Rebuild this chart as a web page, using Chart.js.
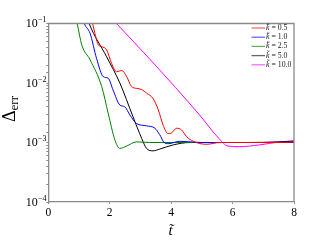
<!DOCTYPE html>
<html><head><meta charset="utf-8">
<script src="https://cdn.jsdelivr.net/npm/chart.js@4/dist/chart.umd.min.js"></script>
<style>html,body{margin:0;padding:0;background:#fff;}#wrap{width:332px;height:249px;}</style>
</head><body><div id="wrap"><canvas id="c" width="332" height="249"></canvas></div>
<script>
// Data
const kLabels = ["0.5", "1.0", "2.5", "5.0", "10.0"];
const colors = ["#ff0000", "#0000ff", "#008000", "#000000", "#ff00ff"];
const redT = [1.35,1.44,1.63,1.74,1.90,2.06,2.22,2.39,2.55,2.71,2.87,3.04,3.20,3.41,3.58,3.74,3.90,4.01,4.18,4.34,4.50,4.72,5.15,5.6,6.5,7.5,8];
const redLog = [-0.85,-1.0,-1.36,-1.39,-1.445,-1.67,-1.81,-1.79,-1.89,-2.06,-2.09,-2.11,-2.17,-2.26,-2.45,-2.71,-2.85,-2.84,-2.76,-2.79,-2.90,-2.98,-3.03,-3.0,-3.0,-3.0,-2.99];
const blueT = [1.05,1.17,1.36,1.57,1.79,1.95,2.11,2.33,2.49,2.66,2.87,3.20,3.47,3.63,3.77,3.90,4.28,5,6,7,8];
const blueLog = [-0.8,-1.0,-1.165,-1.585,-1.894,-1.92,-2.12,-2.37,-2.40,-2.54,-2.68,-2.72,-2.76,-2.87,-3.00,-3.02,-2.98,-3.0,-3.0,-3.0,-2.99];
const greenT = [0.85,0.94,1.09,1.36,1.74,1.95,2.17,2.33,2.55,2.87,3.3,4,5,6,7,8];
const greenLog = [-0.8,-1.0,-1.36,-1.61,-2.06,-2.51,-2.96,-3.10,-3.06,-2.99,-3.0,-3.0,-3.0,-3.0,-3.0,-3.0];
const blackT = [1.25,1.33,1.9,2.33,2.76,3.04,3.20,3.41,3.63,4.07,4.61,5.5,6.5,7.5,8];
const blackLog = [-0.87,-1.0,-1.56,-2.0,-2.57,-2.93,-3.10,-3.14,-3.11,-3.04,-3.00,-3.0,-3.0,-2.99,-2.98];
const magT = [2.0,2.22,3.36,4.93,5.55,5.85,6.23,6.88,7.54,8];
const magLog = [-0.875,-1.0,-1.63,-2.54,-2.93,-3.06,-3.07,-3.04,-2.99,-2.97];
const xTicks = [0, 2, 4, 6, 8];
const yTickExps = [-1, -2, -3, -4];

const seriesT = [redT, blueT, greenT, blackT, magT];
const seriesLog = [redLog, blueLog, greenLog, blackLog, magLog];

const datasets = seriesT.map((ts, i) => ({
  label: kLabels[i],
  data: ts.map((t, j) => ({x: t, y: Math.pow(10, seriesLog[i][j])})),
  borderColor: colors[i],
  borderWidth: 1,
  pointRadius: 0,
  fill: false,
  cubicInterpolationMode: 'monotone'
}));

const SERIF = "'Liberation Serif', 'DejaVu Serif', serif";
const AXIS = "#8a8a8a";

const drawText = {
  id: 'drawText',
  afterDraw(chart) {
    const ctx = chart.ctx;
    const xs = chart.scales.x, ys = chart.scales.y;
    const a = chart.chartArea;
    ctx.save();
    // frame (top/right)
    ctx.strokeStyle = AXIS; ctx.lineWidth = 1.3;
    ctx.beginPath();
    ctx.moveTo(a.left, a.top); ctx.lineTo(a.right, a.top); ctx.lineTo(a.right, a.bottom);
    ctx.stroke();
    // y tick labels with superscripts
    ctx.fillStyle = '#000';
    ctx.textBaseline = 'middle';
    yTickExps.forEach(e => {
      const y = ys.getPixelForValue(Math.pow(10, e));
      const sup = '\u2212' + String(-e);
      ctx.font = '8px ' + SERIF;
      const sw = ctx.measureText(sup).width;
      ctx.textAlign = 'right';
      ctx.fillText(sup, 46.5, y - 3.5);
      ctx.font = '12px ' + SERIF;
      ctx.fillText('10', 46.5 - sw - 0.3, y + 0.5);
    });
    // x tick labels
    ctx.textAlign = 'center';
    ctx.font = '11.5px ' + SERIF;
    xTicks.forEach(v => {
      ctx.fillText(String(v), xs.getPixelForValue(v), 212.5);
    });
    // x title
    ctx.font = 'italic 15px ' + SERIF;
    ctx.fillText('t\u0303', xs.getPixelForValue(4) - 0.5, 231);
    // y title
    ctx.save();
    ctx.translate(15, 109);
    ctx.rotate(-Math.PI / 2);
    ctx.textAlign = 'left';
    ctx.textBaseline = 'alphabetic';
    ctx.font = '18px ' + SERIF;
    const dw = ctx.measureText('\u0394').width;
    ctx.font = '13px ' + SERIF;
    const ew = ctx.measureText('err').width;
    const totalW = dw + ew;
    ctx.font = '18px ' + SERIF;
    ctx.fillText('\u0394', -totalW / 2, 0);
    ctx.font = '13px ' + SERIF;
    ctx.fillText('err', -totalW / 2 + dw, 3);
    ctx.restore();
    // legend
    const ly = [28, 37.2, 46.4, 55.6, 64.8];
    chart.data.datasets.forEach((ds, i) => {
      ctx.strokeStyle = ds.borderColor;
      ctx.globalAlpha = 0.6;
      ctx.lineWidth = 1.3;
      ctx.beginPath();
      ctx.moveTo(251.5, ly[i]); ctx.lineTo(265, ly[i]); ctx.stroke();
      ctx.globalAlpha = 1;
      ctx.textAlign = 'left';
      ctx.textBaseline = 'middle';
      ctx.font = 'italic 7.8px ' + SERIF;
      ctx.fillStyle = '#222';
      ctx.fillText('k\u0303', 266, ly[i]);
      const kw = ctx.measureText('k').width;
      ctx.font = '7.8px ' + SERIF;
      ctx.fillText(' = ' + ds.label, 266 + kw, ly[i]);
    });
    ctx.restore();
  }
};

new Chart(document.getElementById('c'), {
  type: 'line',
  data: { datasets },
  options: {
    responsive: false,
    animation: false,
    devicePixelRatio: 1,
    layout: { padding: { top: 23.5, right: 38, left: 0, bottom: 0 } },
    plugins: { legend: { display: false }, tooltip: { enabled: false } },
    scales: {
      x: {
        type: 'linear', min: 0, max: 8,
        ticks: { stepSize: 2, display: false },
        grid: { drawOnChartArea: false, drawTicks: true, tickLength: 2, color: AXIS },
        border: { color: AXIS, width: 1.3 },
        afterFit: s => { s.height = 47; }
      },
      y: {
        type: 'logarithmic', min: 1e-4, max: 1e-1,
        ticks: { display: false, autoSkip: false },
        grid: { drawOnChartArea: false, drawTicks: true, tickLength: 2, color: AXIS },
        border: { color: AXIS, width: 1.3 },
        afterFit: s => { s.width = 48.3; }
      }
    }
  },
  plugins: [drawText]
});
</script>
</body></html>
